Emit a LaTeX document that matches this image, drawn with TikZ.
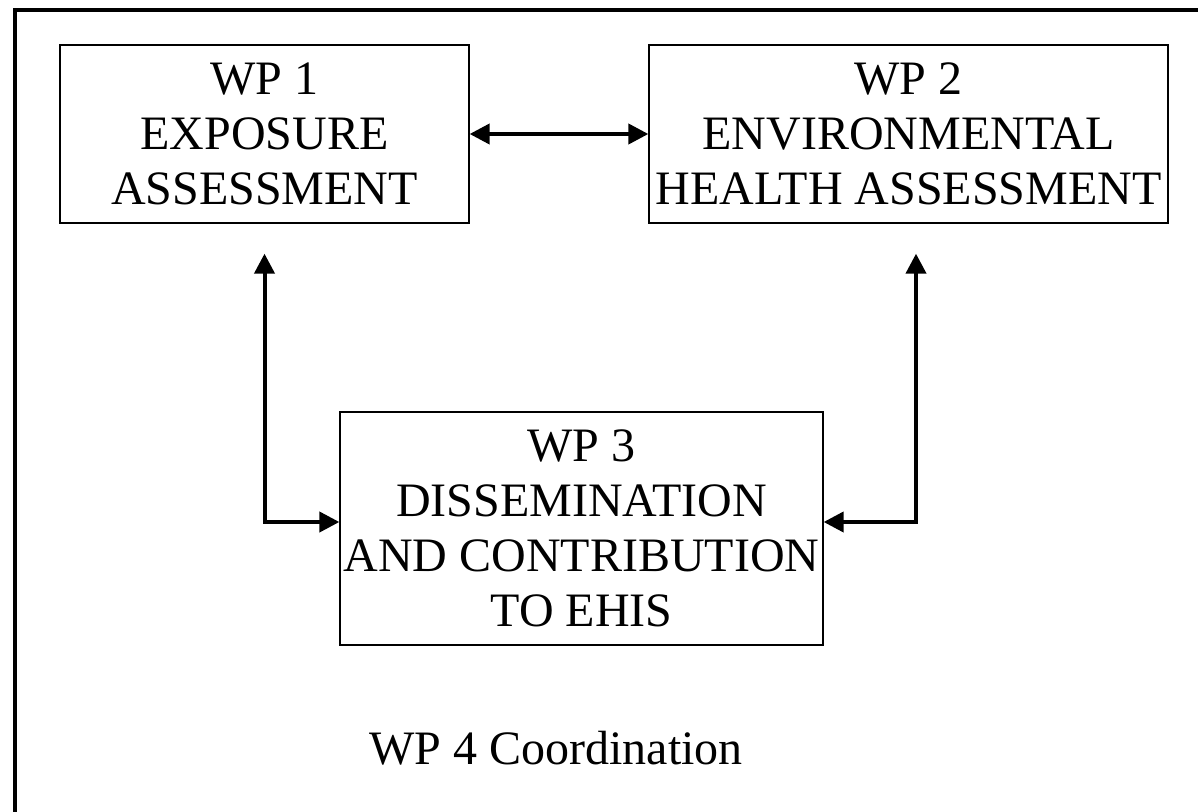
\documentclass[tikz,border=0pt]{standalone}
\usepackage{fontspec}
\setmainfont{Liberation Serif}
\usetikzlibrary{arrows.meta}
\begin{document}
\begin{tikzpicture}[x=1pt,y=-1pt,
  wpbox/.style={draw, line width=1.3pt, inner sep=0pt, align=center,
    font=\fontsize{48}{55}\selectfont},
  link/.style={line width=4pt, {Triangle[length=20pt,width=20pt]}-{Triangle[length=20pt,width=20pt]}}]
  \useasboundingbox (0,0) rectangle (1198,811);
  % outer frame, running past the right and bottom edges
  \draw[line width=3.5pt] (15,1000) -- (15,10) -- (1300,10);
  % work packages
  \node[wpbox, minimum width=409pt, minimum height=178pt] (wp1) at (264.5,134)
    {WP 1\\EXPOSURE\\ASSESSMENT};
  \node[wpbox, minimum width=519pt, minimum height=178pt] (wp2) at (908.5,134)
    {WP 2\\ENVIRONMENTAL\\HEALTH ASSESSMENT};
  \node[wpbox, minimum width=483pt, minimum height=233pt] (wp3) at (581.5,528.5)
    {WP 3\\DISSEMINATION\\AND CONTRIBUTION\\TO EHIS};
  \node[font=\fontsize{48}{55}\selectfont, inner sep=0pt] (wp4) at (556,748) {WP 4 Coordination};
  % links between work packages
  \draw[link] (wp1.east) -- (wp2.west);
  \coordinate (ltop) at ([yshift=-30pt]wp1.south);
  \coordinate (lc) at (264.5,522);
  \coordinate (rtop) at ([xshift=7.5pt,yshift=-30pt]wp2.south);
  \coordinate (rc) at (916,522);
  \draw[link] (ltop) -- (lc) -- (wp3.west |- lc);
  \draw[link] (rtop) -- (rc) -- (wp3.east |- rc);
\end{tikzpicture}
\end{document}
